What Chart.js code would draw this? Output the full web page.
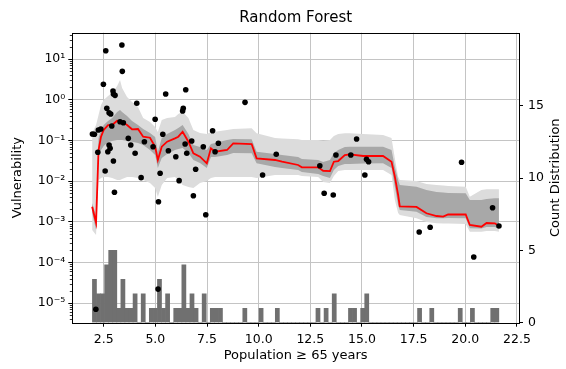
<!DOCTYPE html>
<html>
<head>
<meta charset="utf-8">
<script src="https://cdn.jsdelivr.net/npm/chart.js@4"></script>
<style>
  html, body { margin: 0; padding: 0; background: #fff; }
  canvas { display: block; }
</style>
</head>
<body>
<canvas id="myChart" width="566" height="369"></canvas>
<script>
// model curve + quantile bands, sampled on the same x grid
const gridX = [1.94, 2.13, 2.25, 2.37, 2.50, 2.71, 2.91, 3.15, 3.29, 3.39, 3.63, 3.87, 4.16, 4.41, 4.74, 4.99, 5.12, 5.31, 5.57, 5.95,
  6.11, 6.32, 6.60, 6.84, 7.16, 7.49, 7.69, 7.89, 8.47, 8.77, 9.66, 9.90, 10.79, 11.13, 11.91, 12.09, 12.88, 13.12, 13.45, 13.64,
  13.85, 14.17, 14.41, 15.06, 16.02, 16.43, 16.59, 16.75, 16.83, 17.64, 18.12, 18.61, 18.93, 19.17, 20.02, 20.22, 20.78, 21.03, 21.43, 21.63];
const meanLine = [0.00234, 0.000944, 0.0579, 0.123, 0.18, 0.238, 0.238, 0.304, 0.299, 0.287, 0.238, 0.187, 0.19, 0.123, 0.116, 0.0698, 0.0329, 0.0698, 0.0926, 0.112,
  0.123, 0.163, 0.0926, 0.048, 0.0396, 0.0272, 0.0637, 0.0526, 0.0579, 0.0846, 0.0813, 0.0362, 0.0329, 0.0298, 0.0248, 0.0217, 0.0217, 0.0179, 0.0176, 0.0298,
  0.031, 0.0436, 0.0454, 0.0412, 0.0412, 0.0298, 0.0128, 0.00453, 0.00239, 0.0023, 0.00161, 0.00138, 0.00133, 0.0015, 0.0015, 0.000829, 0.000753, 0.000928, 0.000912, 0.000783];
const innerUpper = [0.00288, 0.00146, 0.114, 0.18, 0.238, 0.299, 0.354, 0.497, 0.557, 0.497, 0.397, 0.299, 0.238, 0.19, 0.151, 0.121, 0.0526, 0.114, 0.143, 0.18,
  0.201, 0.238, 0.143, 0.0768, 0.0686, 0.0579, 0.0813, 0.086, 0.102, 0.108, 0.106, 0.0526, 0.0462, 0.0436, 0.039, 0.0348, 0.0329, 0.0293, 0.0329, 0.0488,
  0.0579, 0.0686, 0.0698, 0.0698, 0.0698, 0.0579, 0.0225, 0.0106, 0.00798, 0.00725, 0.00601, 0.00537, 0.00522, 0.00507, 0.00499, 0.00341, 0.00341, 0.00361, 0.00376, 0.00376];
const innerLower = [0.00163, 0.000625, 0.0436, 0.0579, 0.0726, 0.091, 0.0964, 0.102, 0.102, 0.102, 0.0964, 0.0926, 0.086, 0.0768, 0.0579, 0.0436, 0.0209, 0.0368, 0.0462, 0.0579,
  0.0612, 0.0648, 0.0488, 0.0329, 0.0277, 0.0209, 0.039, 0.039, 0.0436, 0.0488, 0.048, 0.0272, 0.0221, 0.0209, 0.0187, 0.0167, 0.0149, 0.0133, 0.0119, 0.0187,
  0.0234, 0.0262, 0.0262, 0.0269, 0.0272, 0.0209, 0.00725, 0.00257, 0.00194, 0.00176, 0.0013, 0.00121, 0.00121, 0.00123, 0.00121, 0.000688, 0.00068, 0.00074, 0.00074, 0.000688];
const outerUpper = [0.151, 0.238, 0.42, 0.74, 0.98, 1.23, 1.46, 2.17, 3.05, 1.94, 1.16, 0.877, 0.66, 0.354, 0.282, 0.213, 0.16, 0.316, 0.354, 0.375,
  0.444, 0.506, 0.354, 0.18, 0.151, 0.143, 0.16, 0.163, 0.18, 0.19, 0.198, 0.149, 0.114, 0.111, 0.106, 0.102, 0.102, 0.0964, 0.102, 0.128,
  0.143, 0.149, 0.149, 0.143, 0.135, 0.114, 0.0362, 0.0128, 0.0106, 0.01, 0.00844, 0.00798, 0.00776, 0.00754, 0.00725, 0.00411, 0.00601, 0.00626, 0.00626, 0.00626];
const outerLower = [0.000625, 0.00047, 0.0106, 0.0119, 0.0126, 0.0126, 0.0119, 0.0106, 0.0106, 0.0112, 0.0126, 0.0126, 0.0119, 0.0106, 0.00894, 0.00673, 0.00405, 0.00798, 0.0119, 0.0126,
  0.0106, 0.00798, 0.00712, 0.00673, 0.00894, 0.01, 0.0119, 0.0126, 0.0126, 0.0126, 0.0126, 0.0119, 0.0141, 0.0141, 0.0141, 0.0133, 0.0126, 0.00946, 0.00894, 0.0133,
  0.0176, 0.0187, 0.0187, 0.0187, 0.0187, 0.0141, 0.00341, 0.00163, 0.00146, 0.00121, 0.00098, 0.000912, 0.000902, 0.000902, 0.000877, 0.000567, 0.000567, 0.00059, 0.00059, 0.000567];

// observed samples
const sampleX = [1.954, 2.05, 2.12, 2.215, 2.24, 2.36, 2.485, 2.60, 2.57, 2.65, 2.76, 2.84, 2.70, 2.76, 2.81, 2.89, 2.95, 2.97, 3.05, 2.97,
  3.02, 3.29, 3.38, 3.40, 3.45, 3.69, 3.81, 4.02, 4.10, 4.31, 4.47, 4.89, 4.99, 5.15, 5.13, 5.23, 5.36, 5.50, 5.63, 5.99,
  6.15, 6.32, 6.35, 6.47, 6.44, 6.52, 6.76, 6.84, 6.95, 7.32, 7.44, 7.77, 7.89, 8.05, 9.34, 10.19, 10.85, 12.96, 13.17, 13.61,
  13.74, 14.46, 14.74, 15.14, 15.22, 15.32, 17.77, 18.30, 19.82, 20.41, 21.32, 21.63];
const sampleV = [0.143, 0.141, 7.0e-6, 0.0508, 0.18, 0.19, 2.39, 16.0, 0.0176, 0.614, 0.478, 0.444, 0.0526, 0.0768, 0.0637, 0.225, 1.63, 1.38, 1.28, 0.031,
  0.00528, 0.287, 22.1, 4.98, 0.272, 0.112, 0.0768, 0.048, 0.814, 0.0121, 0.0926, 0.0698, 0.329, 0.0031, 2.2e-5, 0.0155, 0.141, 1.38, 0.0556, 0.0396,
  0.0102, 0.526, 0.614, 1.76, 0.0813, 0.048, 0.0964, 0.00435, 0.0194, 0.0698, 0.00148, 0.172, 0.0526, 0.0846, 0.861, 0.0141, 0.0456, 0.0237, 0.00499, 0.00453,
  0.0436, 0.0436, 0.108, 0.0141, 0.0342, 0.0298, 0.000558, 0.000728, 0.0289, 0.000135, 0.00221, 0.000783];

// histogram of the samples along x (100 bins)
const histStart = 1.954;
const histWidth = 0.1967;
const histCounts = [3, 2, 2, 4, 5, 5, 1, 3, 1, 1, 2, 0, 2, 0, 1, 1, 3, 1, 2, 0,
  1, 1, 4, 1, 2, 1, 0, 2, 0, 1, 1, 1, 0, 0, 0, 0, 0, 1, 0, 0,
  0, 1, 0, 0, 0, 1, 0, 0, 0, 0, 0, 0, 0, 0, 0, 1, 0, 1, 0, 2,
  0, 0, 0, 1, 1, 0, 1, 2, 0, 0, 0, 0, 0, 0, 0, 0, 0, 0, 0, 0,
  1, 0, 0, 1, 0, 0, 0, 0, 0, 0, 1, 0, 0, 1, 0, 0, 0, 0, 1, 1];

const xTicks = [2.5, 5, 7.5, 10, 12.5, 15, 17.5, 20, 22.5];
const yDecades = [1e-5, 1e-4, 1e-3, 1e-2, 1e-1, 1, 10];
const countTicks = [0, 5, 10, 15];

const FONT = '"DejaVu Sans", sans-serif';
const supMap = {'-': '\u207B', '0': '\u2070', '1': '\u00B9', '2': '\u00B2', '3': '\u00B3', '4': '\u2074', '5': '\u2075', '6': '\u2076', '7': '\u2077', '8': '\u2078', '9': '\u2079'};
const decadeLabel = v => '10' + String(Math.round(Math.log10(v))).split('').map(c => supMap[c]).join('');

const pts = (xs, ys) => xs.map((x, i) => ({x: x, y: ys[i]}));
const histData = histCounts.map((c, i) => ({x: histStart + (i + 0.5) * histWidth, y: c}));

const frame = {
  id: 'frame',
  afterDraw(chart) {
    const {ctx, chartArea: a, scales} = chart;
    ctx.save();
    // minor log ticks on the left spine
    ctx.strokeStyle = '#000';
    ctx.lineWidth = 0.8;
    const y = scales.y;
    for (let e = -6; e <= 1; e++) {
      for (let m = 2; m <= 9; m++) {
        const v = m * Math.pow(10, e);
        if (v < y.min || v > y.max) continue;
        const py = Math.round(y.getPixelForValue(v)) + 0.5;
        ctx.beginPath();
        ctx.moveTo(a.left, py);
        ctx.lineTo(a.left - 2.5, py);
        ctx.stroke();
      }
    }
    // frame
    ctx.lineWidth = 1;
    ctx.strokeRect(Math.round(a.left) + 0.5, Math.round(a.top) + 0.5, Math.round(a.right - a.left), Math.round(a.bottom - a.top));
    // titles
    ctx.fillStyle = '#000';
    ctx.textAlign = 'center';
    ctx.textBaseline = 'middle';
    ctx.font = '15px ' + FONT;
    ctx.fillText('Random Forest', (a.left + a.right) / 2, 18);
    ctx.font = '13px ' + FONT;
    ctx.fillText('Population \u2265 65 years', (a.left + a.right) / 2, 356);
    ctx.translate(18, (a.top + a.bottom) / 2);
    ctx.rotate(-Math.PI / 2);
    ctx.fillText('Vulnerability', 0, 0);
    ctx.restore();
    ctx.save();
    ctx.fillStyle = '#000';
    ctx.textAlign = 'center';
    ctx.textBaseline = 'middle';
    ctx.font = '13px ' + FONT;
    ctx.translate(556, (a.top + a.bottom) / 2);
    ctx.rotate(-Math.PI / 2);
    ctx.fillText('Count Distribution', 0, 0);
    ctx.restore();
  }
};

const tickFont = {family: FONT, size: 12.5};

new Chart(document.getElementById('myChart').getContext('2d'), {
  type: 'line',
  data: {
    datasets: [
      {
        type: 'scatter',
        data: pts(sampleX, sampleV),
        yAxisID: 'y',
        backgroundColor: '#000',
        borderColor: '#000',
        borderWidth: 0,
        pointRadius: 2.8,
        order: 0
      },
      {
        data: pts(gridX, meanLine),
        yAxisID: 'y',
        borderColor: '#ff0000',
        borderWidth: 1.8,
        pointRadius: 0,
        fill: false,
        tension: 0,
        order: 1
      },
      {
        data: pts(gridX, innerUpper),
        yAxisID: 'y',
        borderWidth: 0,
        borderColor: 'rgba(0,0,0,0)',
        pointRadius: 0,
        fill: false,
        order: 2
      },
      {
        data: pts(gridX, innerLower),
        yAxisID: 'y',
        borderWidth: 0,
        borderColor: 'rgba(0,0,0,0)',
        pointRadius: 0,
        fill: '-1',
        backgroundColor: '#a8a8a8',
        order: 2
      },
      {
        data: pts(gridX, outerUpper),
        yAxisID: 'y',
        borderWidth: 0,
        borderColor: 'rgba(0,0,0,0)',
        pointRadius: 0,
        fill: false,
        order: 3
      },
      {
        data: pts(gridX, outerLower),
        yAxisID: 'y',
        borderWidth: 0,
        borderColor: 'rgba(0,0,0,0)',
        pointRadius: 0,
        fill: '-1',
        backgroundColor: '#dcdcdc',
        order: 3
      },
      {
        type: 'bar',
        data: histData,
        yAxisID: 'y2',
        backgroundColor: '#707070',
        borderWidth: 0,
        barPercentage: 1,
        categoryPercentage: 1,
        order: 4
      }
    ]
  },
  options: {
    responsive: false,
    animation: false,
    devicePixelRatio: 1,
    layout: {padding: {top: 32.7, left: 0, right: 0, bottom: 0}},
    plugins: {
      legend: {display: false},
      tooltip: {enabled: false},
      title: {display: false}
    },
    scales: {
      x: {
        type: 'linear',
        min: 0.98,
        max: 22.6,
        offset: false,
        afterBuildTicks: s => { s.ticks = xTicks.map(v => ({value: v})); },
        afterFit: s => { s.height = 46.3; },
        ticks: {callback: v => v.toFixed(1), color: '#000', font: tickFont, padding: 6, maxRotation: 0, autoSkip: false},
        grid: {offset: false, color: '#c4c4c4', lineWidth: 1, tickLength: 4, tickColor: '#000', tickWidth: 1},
        border: {display: false}
      },
      y: {
        type: 'logarithmic',
        position: 'left',
        min: 3.28e-6,
        max: 44.4,
        afterBuildTicks: s => { s.ticks = yDecades.map(v => ({value: v})); },
        afterFit: s => { s.width = 72.3; },
        ticks: {callback: v => decadeLabel(v), color: '#000', font: tickFont, padding: 3, autoSkip: false},
        grid: {color: '#c4c4c4', lineWidth: 1, tickLength: 4, tickColor: '#000', tickWidth: 1},
        border: {display: false}
      },
      y2: {
        type: 'linear',
        position: 'right',
        min: 0,
        max: 20.07,
        afterBuildTicks: s => { s.ticks = countTicks.map(v => ({value: v})); },
        afterFit: s => { s.width = 47; },
        ticks: {color: '#000', font: tickFont, padding: 5, autoSkip: false},
        grid: {drawOnChartArea: false, tickLength: 4, tickColor: '#000', tickWidth: 1},
        border: {display: false}
      }
    }
  },
  plugins: [frame]
});
</script>
</body>
</html>
